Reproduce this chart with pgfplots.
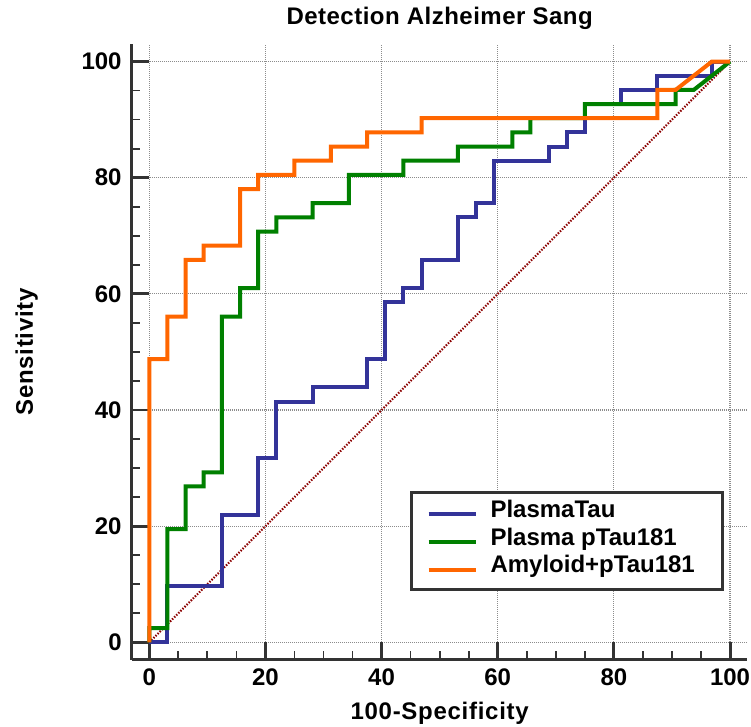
\documentclass[border=0pt]{standalone}
\usepackage{fontspec}
\setmainfont{Liberation Sans}
\usepackage{pgfplots}
\pgfplotsset{compat=1.18}
\definecolor{cblue}{HTML}{333399}
\definecolor{cgreen}{HTML}{008000}
\definecolor{corange}{HTML}{FF6600}
\definecolor{cdiag}{HTML}{8B0000}
\definecolor{axisgray}{HTML}{333333}
\definecolor{gridgray}{HTML}{8C8C8C}
\newcommand{\bigbf}{\bfseries\fontsize{18}{20}\selectfont}
\newfontfamily\spacedA[LetterSpace=2]{Liberation Sans}
\newfontfamily\spacedB[LetterSpace=3]{Liberation Sans}
\begin{document}
\begin{tikzpicture}
\begin{axis}[
  name=ax,
  scale only axis,
  width=461.7pt, height=461.7pt,
  xmin=-3, xmax=103, ymin=-3, ymax=103,
  axis x line*=bottom, axis y line*=left,
  axis line style={-, line width=2.2pt, color=axisgray},
  xtick={0,20,...,100}, ytick={0,20,...,100},
  minor x tick num=3, minor y tick num=3,
  tick align=inside,
  major tick length=13pt, minor tick length=6.4pt,
  every major tick/.append style={line width=2.2pt, axisgray},
  every minor tick/.append style={line width=1.3pt, axisgray},
  grid=major,
  major grid style={gridgray, line width=0.85pt, dash pattern=on 0.75pt off 0.75pt},
  /pgf/number format/assume math mode=true,
  ticklabel style={font=\bigbf},
  yticklabel style={anchor=east, inner sep=0pt, xshift=-7.5pt},
  xticklabel style={anchor=north, inner sep=0pt, yshift=-6.2pt},
  title={Detection Alzheimer Sang},
  title style={at={(axis description cs:0.5,1.0187)}, anchor=base, yshift=0pt, font=\spacedA\bigbf},
  xlabel={100-Specificity},
  xlabel style={at={(axis description cs:0.5,-0.0968)}, anchor=base, font=\spacedB\bigbf},
  ylabel={Sensitivity},
  ylabel style={at={(axis description cs:-0.1607,0.5)}, anchor=base, rotate=0, font=\spacedB\bigbf},
  legend image code/.code={\draw[#1] (0pt,-1pt) -- (35.25pt,-1pt);},
  legend cell align=left,
  legend style={at={(axis cs:44.9,26.1)}, anchor=north west, draw=axisgray, line width=2.2pt, fill=white,
    inner xsep=11.25pt, inner ysep=5.3pt, row sep=0pt, font=\bigbf,
    nodes={inner xsep=9.75pt, inner ysep=0pt, text height=13.5pt, text depth=7.3pt}},
]
\addplot[cdiag, line width=1.5pt, dash pattern=on 1.1pt off 1.1pt, forget plot] coordinates {(0,0) (100,100)};
\addplot[cblue, line width=3pt] coordinates {
(0,0) (3.125,0) (3.125,9.76) (12.5,9.76) (12.5,21.95) (18.75,21.95) (18.75,31.71) (21.875,31.71)
(21.875,41.46) (28.125,41.46) (28.125,43.90) (37.5,43.90) (37.5,48.78) (40.625,48.78) (40.625,58.54)
(43.75,58.54) (43.75,60.98) (46.875,60.98) (46.875,65.85) (53.125,65.85) (53.125,73.17) (56.25,73.17)
(56.25,75.61) (59.375,75.61) (59.375,82.93) (68.75,82.93) (68.75,85.37) (71.875,85.37) (71.875,87.80)
(75,87.80) (75,92.68) (81.25,92.68) (81.25,95.12) (87.5,95.12) (87.5,97.56) (96.875,97.56) (96.875,100) (100,100)};
\addlegendentry{PlasmaTau}
\addplot[cgreen, line width=3pt] coordinates {
(0,0) (0,2.44) (3.125,2.44) (3.125,19.51) (6.25,19.51) (6.25,26.83) (9.375,26.83) (9.375,29.27)
(12.5,29.27) (12.5,56.10) (15.625,56.10) (15.625,60.98) (18.75,60.98) (18.75,70.73) (21.875,70.73)
(21.875,73.17) (28.125,73.17) (28.125,75.61) (34.375,75.61) (34.375,80.49) (43.75,80.49) (43.75,82.93)
(53.125,82.93) (53.125,85.37) (62.5,85.37) (62.5,87.80) (65.625,87.80) (65.625,90.24) (75,90.24)
(75,92.68) (90.625,92.68) (90.625,95.12) (93.75,95.12) (100,100)};
\addlegendentry{Plasma pTau181}
\addplot[corange, line width=3pt] coordinates {
(0,0) (0,48.78) (3.125,48.78) (3.125,56.10) (6.25,56.10) (6.25,65.85) (9.375,65.85) (9.375,68.29)
(15.625,68.29) (15.625,78.05) (18.75,78.05) (18.75,80.49) (25,80.49) (25,82.93) (31.25,82.93)
(31.25,85.37) (37.5,85.37) (37.5,87.80) (46.875,87.80) (46.875,90.24) (87.5,90.24) (87.5,95.12)
(90.625,95.12) (96.875,100) (100,100)};
\addlegendentry{Amyloid+pTau181}
\end{axis}
\pgfresetboundingbox
\path[use as bounding box] (ax.south west) ++(-98.9pt,-49.7pt) rectangle ++(563.25pt,544.5pt);
\end{tikzpicture}
\end{document}
